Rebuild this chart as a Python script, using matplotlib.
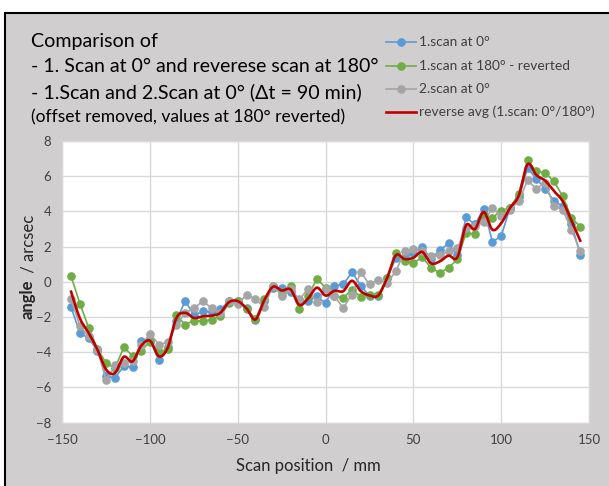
import numpy as np
import matplotlib
matplotlib.use("Agg")
import matplotlib.pyplot as plt
from matplotlib.patches import Rectangle
from matplotlib.lines import Line2D

plt.rcParams['font.family'] = ['Lato', 'DejaVu Sans']

positions = list(range(-145, 150, 5))

scan1_0 = [-1.44, -2.9, -3.2, -3.9, -5.36, -5.45, -4.8, -4.83, -3.34, -3.3,
           -4.45, -3.7, -2.2, -1.08, -1.9, -1.67, -1.7, -1.57, -1.1, -1.1,
           -1.47, -2.18, -1.1, -0.34, -0.34, -0.6, -1.04, -1.1, -0.82, -1.22,
           -0.21, -0.15, 0.55, -0.21, -0.82, -0.82, 0.2, 1.36, 1.4, 1.65,
           2.0, 1.3, 1.8, 2.18, 1.5, 3.66, 3.26, 4.13, 2.28, 2.6,
           4.2, 4.8, 6.45, 5.85, 5.3, 4.6, 4.3, 3.3, 1.55]

scan1_180 = [0.32, -1.23, -2.6, -3.8, -4.62, -4.9, -3.72, -4.2, -3.9, -3.4,
             -4.0, -3.8, -1.9, -2.43, -2.2, -2.24, -2.14, -1.95, -1.2, -1.1,
             -1.57, -2.1, -1.0, -0.21, -0.63, -0.25, -1.57, -0.8, 0.17, -0.34,
             -0.8, -0.91, -0.44, -0.85, -0.72, -0.72, 0.23, 1.65, 1.17, 1.08,
             1.4, 0.8, 0.51, 0.8, 1.27, 2.78, 2.71, 3.8, 3.64, 4.05,
             4.2, 5.0, 6.9, 6.28, 6.19, 5.72, 4.86, 3.64, 3.13]

scan2_0 = [-1.0, -2.5, -3.1, -3.85, -5.6, -4.72, -4.6, -4.5, -3.6, -2.94,
           -3.56, -3.43, -2.43, -1.78, -1.5, -1.1, -1.48, -1.76, -1.1, -1.25,
           -0.72, -1.0, -1.42, -0.21, -0.78, -0.4, -1.0, -0.4, -1.16, -0.42,
           -0.82, -1.48, -0.72, 0.55, -0.15, 0.13, -0.06, 0.6, 1.74, 1.84,
           1.74, 1.45, 1.5, 1.74, 1.9, 3.07, 3.15, 3.4, 4.2, 3.73,
           4.1, 4.58, 5.77, 5.28, 5.63, 4.3, 4.1, 2.97, 1.74]

reverse_avg = [-0.56, -2.07, -2.9, -3.85, -4.99, -5.18, -4.26, -4.52, -3.62, -3.35,
               -4.23, -3.75, -2.05, -1.76, -2.05, -1.96, -1.92, -1.76, -1.15, -1.1,
               -1.52, -2.14, -1.05, -0.28, -0.49, -0.43, -1.31, -0.95, -0.33, -0.78,
               -0.51, -0.53, 0.06, -0.53, -0.77, -0.77, 0.22, 1.51, 1.29, 1.37,
               1.7, 1.05, 1.16, 1.49, 1.39, 3.22, 2.99, 3.97, 2.96, 3.33,
               4.2, 4.9, 6.68, 6.07, 5.75, 5.16, 4.58, 3.47, 2.34]

series_labels = ["1.scan at 0°", "1.scan at 180° - reverted", "2.scan at 0°",
                 "reverse avg (1.scan: 0°/180°)"]
x_ticks = [-150, -100, -50, 0, 50, 100, 150]
y_ticks = [-8, -6, -4, -2, 0, 2, 4, 6, 8]

BLUE, GREEN, GRAY, RED = '#5B9BD5', '#70AD47', '#A5A5A5', '#C00000'
BG = '#D0CECE'
TXT = '#404040'


def smooth(x, y, n=12):
    # Catmull-Rom style smoothing (Excel "smoothed line")
    x = np.asarray(x, float); y = np.asarray(y, float)
    P = np.column_stack([x, y])
    P = np.vstack([P[0], P, P[-1]])
    out = []
    t = np.linspace(0, 1, n, endpoint=False)
    for i in range(1, len(P) - 2):
        p0, p1, p2, p3 = P[i - 1], P[i], P[i + 1], P[i + 2]
        c1 = p1 + (p2 - p0) / 6.0
        c2 = p2 - (p3 - p1) / 6.0
        for tt in t:
            b = ((1 - tt) ** 3) * p1 + 3 * ((1 - tt) ** 2) * tt * c1 + 3 * (1 - tt) * tt ** 2 * c2 + tt ** 3 * p2
            out.append(b)
    out.append(P[-2])
    out = np.array(out)
    return out[:, 0], out[:, 1]


fig = plt.figure(figsize=(6.09, 4.86), dpi=100)
fig.patch.set_facecolor('white')
W, H = 609, 486
fig.patches.append(Rectangle((5 / W, -0.01), 1.0, 1 - 13 / H + 0.01,
                             transform=fig.transFigure, facecolor=BG,
                             edgecolor='black', linewidth=1.5, zorder=-10))

ax = fig.add_axes([62.3 / W, 1 - 422.7 / H, (589 - 62.3) / W, (422.7 - 141) / H])
ax.set_facecolor('white')

ax.plot(positions, scan1_0, color=BLUE, lw=1.2, marker='o', ms=5.2, zorder=3)
ax.plot(positions, scan1_180, color=GREEN, lw=1.2, marker='o', ms=5.2, zorder=4)
ax.plot(positions, scan2_0, color=GRAY, lw=1.2, marker='o', ms=5.2, zorder=5)
sx, sy = smooth(positions, reverse_avg)
ax.plot(sx, sy, color=RED, lw=1.9, zorder=6)

ax.set_xlim(-150, 150)
ax.set_ylim(-8, 8)
ax.set_xticks(x_ticks)
ax.set_yticks(y_ticks)
ax.grid(True, color='#D9D9D9', lw=1.0, zorder=0)
ax.set_axisbelow(True)
for s in ax.spines.values():
    s.set_color('#D9D9D9')
    s.set_linewidth(1.0)
ax.tick_params(length=0, labelsize=9.5, colors=TXT, pad=8)

fig.text(308 / W, 1 - 466 / H, "Scan position  / mm", ha='center', va='center',
         fontsize=12, color='#262626')
fig.text(28 / W, 1 - 299 / H, "angle", rotation=90, ha='center', va='center',
         fontsize=12, fontweight='bold', color='#262626')
fig.text(28 / W, 1 - 246 / H, " / arcsec", rotation=90, ha='center', va='center',
         fontsize=12, color='#262626')

title_lines = [("Comparison of", 42, 14.1),
               ("- 1. Scan at 0° and reverese scan at 180°", 67, 14.0),
               ("- 1.Scan and 2.Scan at 0° (Δt = 90 min)", 92, 14.1),
               ("(offset removed, values at 180° reverted)", 117, 12.5)]
for txt, yy, fs in title_lines:
    fig.text(31 / W, 1 - yy / H, txt, ha='left', va='center', fontsize=fs, color='black')

handles = [Line2D([], [], color=BLUE, lw=1.2, marker='o', ms=5.2),
           Line2D([], [], color=GREEN, lw=1.2, marker='o', ms=5.2),
           Line2D([], [], color=GRAY, lw=1.2, marker='o', ms=5.2),
           Line2D([], [], color=RED, lw=1.9)]
leg_rows = [42, 66, 89, 112]
for h, lab, yy in zip(handles, series_labels, leg_rows):
    yf = 1 - yy / H
    ln = Line2D([386 / W, 416 / W], [yf, yf], transform=fig.transFigure,
                color=h.get_color(), lw=h.get_linewidth())
    fig.lines.append(ln)
    if h.get_marker() not in (None, 'None', ''):
        mk = Line2D([401 / W], [yf], transform=fig.transFigure, color=h.get_color(),
                    marker='o', ms=5.2, lw=0)
        fig.lines.append(mk)
    fig.text(419 / W, yf, lab, ha='left', va='center', fontsize=9.9, color='#404040')

fig.savefig('out.png', dpi=100, facecolor=fig.get_facecolor())
